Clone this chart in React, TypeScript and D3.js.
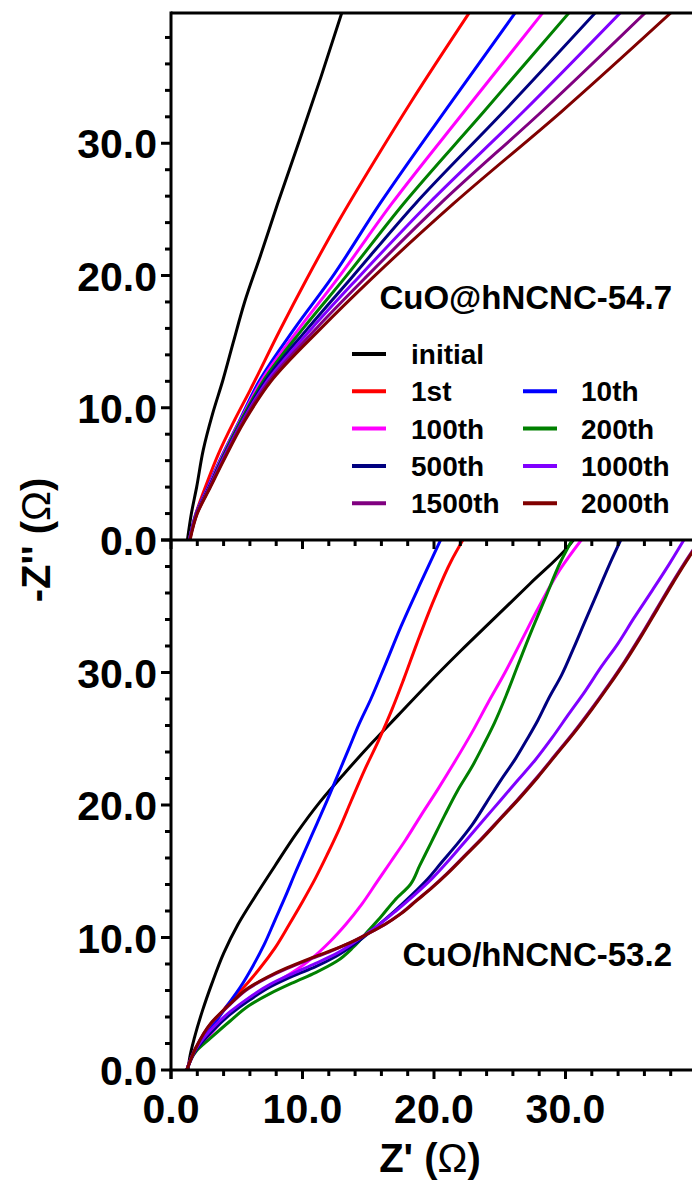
import React from "react";
import * as d3 from "d3";

type Pt = [number, number];

const seriesNames = ["initial", "1st", "10th", "100th", "200th", "500th", "1000th", "1500th", "2000th"];
const seriesColors = ["#000000", "#FF0000", "#0000FF", "#FF00FF", "#008000", "#000080", "#8000FF", "#800080", "#800000"];

// Top panel: CuO@hNCNC-54.7  (Z', -Z'')
const topInitial: Pt[] = [[1.25,0],[1.55,2],[1.95,4],[2.45,6.8],[3.15,9.5],[3.95,12.1],[4.75,15],[5.6,18],[6.8,21.5],[8.1,25.4],[9.8,30.3],[11.4,35],[13.0,39.9]];
const top1st: Pt[] = [[1.4,0],[1.9,2],[2.8,4.5],[3.6,6.5],[4.8,9],[6.0,11.3],[8.3,15.9],[10.3,19.7],[12.8,24.2],[15.5,28.7],[18.3,33.2],[22.7,39.9]];
const top10th: Pt[] = [[1.4,0],[1.9,2],[2.8,4],[3.7,6],[5.2,9],[6.7,12],[9.4,16],[12.2,19.8],[15.9,25.45],[20.8,32.4],[26.2,39.9]];
const top100th: Pt[] = [[1.4,0],[1.92,2],[2.85,4],[3.75,6],[5.25,9],[6.85,12],[9.75,16],[12.7,19.8],[16.8,25.45],[22.3,32.4],[28.3,39.9]];
const top200th: Pt[] = [[1.4,0],[1.94,2],[2.9,4],[3.8,6],[5.3,9],[7.0,12],[10.05,16],[13.2,19.8],[17.7,25.45],[23.8,32.4],[30.3,39.9]];
const top500th: Pt[] = [[1.4,0],[1.95,2],[2.9,4],[3.85,6],[5.4,9],[7.15,12],[10.4,16],[13.7,19.8],[18.6,25.45],[25.3,32.4],[32.3,39.9]];
const top1000th: Pt[] = [[1.4,0],[1.96,2],[2.95,4],[3.9,6],[5.45,9],[7.3,12],[10.7,16],[14.2,19.8],[19.6,25.45],[26.8,32.4],[34.2,39.9]];
const top1500th: Pt[] = [[1.42,0],[1.98,2],[2.95,4],[3.95,6],[5.5,9],[7.45,12],[11.05,16],[14.75,19.8],[20.5,25.45],[28.2,32.4],[36.1,39.9]];
const top2000th: Pt[] = [[1.45,0],[2.0,2],[3.0,4],[4.0,6],[5.6,9],[7.6,12],[11.4,16],[15.3,19.8],[21.5,25.45],[29.7,32.4],[38.05,39.9]];

// Bottom panel: CuO/hNCNC-53.2
const botInitial: Pt[] = [[1.3,0],[1.4,0.8],[1.8,2.5],[2.4,4.5],[3.1,6.5],[4.0,8.8],[5.1,11.0],[6.4,13.1],[7.9,15.4],[9.5,17.8],[11.3,20.2],[13.2,22.4],[15.2,24.6],[17.3,26.8],[19.5,29.1],[22.0,31.6],[24.6,34.1],[27.3,36.7],[30.2,39.5],[30.6,40]];
const bot1st: Pt[] = [[1.2,0],[1.8,1.5],[3.0,3.1],[4.3,4.9],[5.5,6.2],[6.7,7.6],[7.9,9.2],[9.0,11.0],[10.0,12.7],[11.0,14.5],[11.9,16.3],[12.8,18.2],[13.7,20.3],[14.7,22.6],[15.8,24.9],[16.8,27.2],[17.7,29.5],[18.7,32.2],[20.0,35.5],[21.3,38.4],[22.2,40]];
const bot10th: Pt[] = [[1.2,0],[1.8,1.5],[3.0,3.1],[4.3,4.9],[5.3,6.3],[6.2,7.8],[7.1,9.5],[7.9,11.3],[8.7,13.1],[9.5,15.0],[10.3,16.8],[11.1,18.6],[11.9,20.4],[12.7,22.3],[13.5,24.2],[14.3,26.1],[15.2,28.0],[16.3,30.6],[17.5,33.5],[19.0,36.8],[20.5,40]];
const bot100th: Pt[] = [[1.2,0],[1.9,1.5],[3.0,2.7],[4.3,4.1],[5.6,5.2],[7.0,6.1],[8.3,6.8],[9.6,7.6],[10.8,8.5],[12.1,9.7],[13.3,11.0],[14.5,12.5],[15.6,14.1],[16.7,15.7],[17.8,17.3],[19.0,19.2],[20.3,21.2],[21.6,23.3],[22.9,25.5],[24.1,27.7],[25.4,30.0],[26.7,32.5],[28.0,35.0],[29.6,37.8],[31.2,40]];
const bot200th: Pt[] = [[1.2,0],[1.9,1.4],[3.0,2.4],[4.5,3.7],[6.0,4.9],[7.6,5.8],[9.3,6.6],[11.0,7.35],[12.6,8.2],[13.9,9.3],[15.0,10.5],[16.0,11.6],[17.0,12.8],[18.2,14.0],[18.9,15.4],[19.8,17.2],[20.8,19.2],[21.8,21.1],[22.9,22.9],[23.8,24.6],[24.6,26.2],[25.5,28.3],[26.4,30.6],[27.4,33.1],[28.5,35.7],[29.6,38.3],[30.5,40]];
const bot500th: Pt[] = [[1.2,0],[1.9,1.5],[3.0,2.8],[4.5,4.2],[6.0,5.3],[7.6,6.3],[9.3,7.1],[11.0,7.8],[12.6,8.6],[14.1,9.6],[15.6,10.8],[17.0,12.0],[18.3,13.2],[19.5,14.4],[20.6,15.7],[21.8,17.1],[22.9,18.5],[24.0,20.2],[25.1,21.9],[26.2,23.5],[27.1,25.0],[27.9,26.4],[28.7,28.0],[29.7,29.8],[30.6,31.8],[31.5,33.9],[32.5,36.2],[33.5,38.5],[34.2,40]];
const bot1000th: Pt[] = [[1.2,0],[1.9,1.6],[3.0,3.0],[4.5,4.4],[6.0,5.5],[7.6,6.5],[9.3,7.3],[11.0,8.05],[12.6,8.8],[14.1,9.75],[15.6,10.8],[17.1,12.0],[18.5,13.2],[19.9,14.5],[21.2,15.9],[22.5,17.4],[23.8,18.9],[25.1,20.4],[26.4,21.9],[27.7,23.4],[29.0,25.1],[30.2,26.8],[31.5,28.6],[32.7,30.4],[34.0,32.2],[35.2,34.1],[36.6,36.2],[37.9,38.2],[39.0,40]];
const bot1500th: Pt[] = [[1.2,0],[1.9,1.7],[3.0,3.45],[4.5,4.95],[5.9,6.15],[7.3,6.95],[8.8,7.65],[10.4,8.3],[12.0,8.9],[13.5,9.55],[14.9,10.25],[16.2,10.95],[17.4,11.75],[18.6,12.75],[19.8,13.75],[21.0,14.85],[22.3,16.15],[23.6,17.45],[25.0,18.95],[26.4,20.45],[27.8,22.05],[29.2,23.75],[30.6,25.45],[31.9,27.15],[33.2,28.95],[34.5,30.85],[35.7,32.75],[36.9,34.75],[38.1,36.75],[39.3,38.65],[40.2,40]];
const bot2000th: Pt[] = [[1.2,0],[1.9,1.7],[3.0,3.5],[4.5,5.0],[5.9,6.2],[7.3,7.0],[8.8,7.7],[10.4,8.35],[12.0,8.95],[13.6,9.6],[15.0,10.3],[16.3,11.0],[17.5,11.8],[18.7,12.8],[19.9,13.8],[21.1,14.9],[22.4,16.2],[23.7,17.5],[25.1,19.0],[26.5,20.5],[27.9,22.1],[29.3,23.8],[30.7,25.5],[32.0,27.2],[33.3,29.0],[34.6,30.9],[35.8,32.8],[37.0,34.8],[38.2,36.8],[39.4,38.7],[40.3,40]];

const topSeries = [topInitial, top1st, top10th, top100th, top200th, top500th, top1000th, top1500th, top2000th];
const botSeries = [botInitial, bot1st, bot10th, bot100th, bot200th, bot500th, bot1000th, bot1500th, bot2000th];

const xTickLabels = [0, 10, 20, 30];
const yTickLabels = [0, 10, 20, 30];
const topLabel = "CuO@hNCNC-54.7";
const botLabel = "CuO/hNCNC-53.2";

// legend layout: [series index, column, row]
const legendItems: [number, number, number][] = [
  [0, 0, 0], [1, 0, 1], [2, 1, 1], [3, 0, 2], [4, 1, 2], [5, 0, 3], [6, 1, 3], [7, 0, 4], [8, 1, 4],
];

const W = 692;
const H = 1184;
const FONT = "'Liberation Sans', Arial, Helvetica, sans-serif";

export default function App() {
  const x = d3.scaleLinear().domain([0, 40]).range([171, 697]);
  const yTop = d3.scaleLinear().domain([0, 39.85]).range([540, 13]);
  const yBot = d3.scaleLinear().domain([0, 40]).range([1070, 540]);

  const lineTop = d3.line<Pt>().x((d) => x(d[0])).y((d) => yTop(d[1])).curve(d3.curveMonotoneY);
  const lineBot = d3.line<Pt>().x((d) => x(d[0])).y((d) => yBot(d[1])).curve(d3.curveMonotoneY);

  const xMinor = d3.range(0, 40, 2);
  const yTopTicks = d3.range(0, 40, 2);
  const yBotTicks = d3.range(0, 41, 2);
  const axisX = x(0);

  return (
    <svg width={W} height={H} style={{ position: "absolute", left: 0, top: 0, background: "#fff" }} fontFamily={FONT}>
      <defs>
        <clipPath id="clipTop"><rect x={axisX} y={13} width={W - axisX} height={527} /></clipPath>
        <clipPath id="clipBot"><rect x={axisX} y={540} width={W - axisX} height={530} /></clipPath>
      </defs>
      <rect x={0} y={0} width={W} height={H} fill="#fff" />

      {/* curves */}
      <g clipPath="url(#clipTop)">
        {topSeries.map((s, i) => (
          <path key={"t" + i} d={lineTop(s) || ""} fill="none" stroke={seriesColors[i]} strokeWidth={3} strokeLinejoin="round" />
        ))}
      </g>
      <g clipPath="url(#clipBot)">
        {botSeries.map((s, i) => (
          <path key={"b" + i} d={lineBot(s) || ""} fill="none" stroke={seriesColors[i]} strokeWidth={3} strokeLinejoin="round" />
        ))}
      </g>

      {/* frame lines */}
      <line x1={axisX} x2={W} y1={yTop(39.85)} y2={yTop(39.85)} stroke="#000" strokeWidth={3} />
      <line x1={axisX - 1.5} x2={W} y1={yTop(0)} y2={yTop(0)} stroke="#000" strokeWidth={3} />
      <line x1={axisX - 1.5} x2={W} y1={yBot(0)} y2={yBot(0)} stroke="#000" strokeWidth={3} />
      <line x1={axisX} x2={axisX} y1={11.5} y2={1079} stroke="#000" strokeWidth={3} />

      {/* x ticks */}
      {[yTop(0), yBot(0)].map((y0, k) => (
        <g key={"xt" + k}>
          {xMinor.map((v) => (
            <line key={v} x1={x(v)} x2={x(v)} y1={y0} y2={y0 + (v % 10 === 0 ? 9 : 6)} stroke="#000" strokeWidth={3} />
          ))}
        </g>
      ))}
      {/* y ticks */}
      {yTopTicks.map((v) => (
        <line key={"yt" + v} x1={axisX - (v % 10 === 0 ? 10 : 6)} x2={axisX} y1={yTop(v)} y2={yTop(v)} stroke="#000" strokeWidth={3} />
      ))}
      {yBotTicks.map((v) => (
        <line key={"yb" + v} x1={axisX - (v % 10 === 0 ? 10 : 6)} x2={axisX} y1={yBot(v)} y2={yBot(v)} stroke="#000" strokeWidth={3} />
      ))}

      {/* y tick labels */}
      {yTickLabels.map((v) => (
        <text key={"ylt" + v} x={157} y={yTop(v) + 15} textAnchor="end" fontSize={41} fontWeight="bold">{v.toFixed(1)}</text>
      ))}
      {yTickLabels.map((v) => (
        <text key={"ylb" + v} x={157} y={yBot(v) + 15} textAnchor="end" fontSize={41} fontWeight="bold">{v.toFixed(1)}</text>
      ))}
      {/* x tick labels */}
      {xTickLabels.map((v) => (
        <text key={"xl" + v} x={x(v)} y={1123} textAnchor="middle" fontSize={41} fontWeight="bold">{v.toFixed(1)}</text>
      ))}

      {/* axis titles */}
      <text x={430} y={1172} textAnchor="middle" fontSize={40} fontWeight="bold">
        Z' <tspan>(</tspan><tspan fontWeight="normal">Ω</tspan><tspan>)</tspan>
      </text>
      <text transform="translate(50,540) rotate(-90)" textAnchor="middle" fontSize={40} fontWeight="bold">
        -Z'' <tspan>(</tspan><tspan fontWeight="normal">Ω</tspan><tspan>)</tspan>
      </text>

      {/* panel labels */}
      <text x={672} y={309} textAnchor="end" fontSize={33} fontWeight="bold">{topLabel}</text>
      <text x={672} y={966} textAnchor="end" fontSize={33} fontWeight="bold">{botLabel}</text>

      {/* legend */}
      {legendItems.map(([si, col, row]) => {
        const lx = col === 0 ? 352 : 523;
        const tx = col === 0 ? 411 : 581;
        const ly = 354 + row * 37.3;
        return (
          <g key={"lg" + si}>
            <line x1={lx} x2={lx + 34} y1={ly} y2={ly} stroke={seriesColors[si]} strokeWidth={4} />
            <text x={tx} y={ly + 10} fontSize={28} fontWeight="bold">{seriesNames[si]}</text>
          </g>
        );
      })}
    </svg>
  );
}
